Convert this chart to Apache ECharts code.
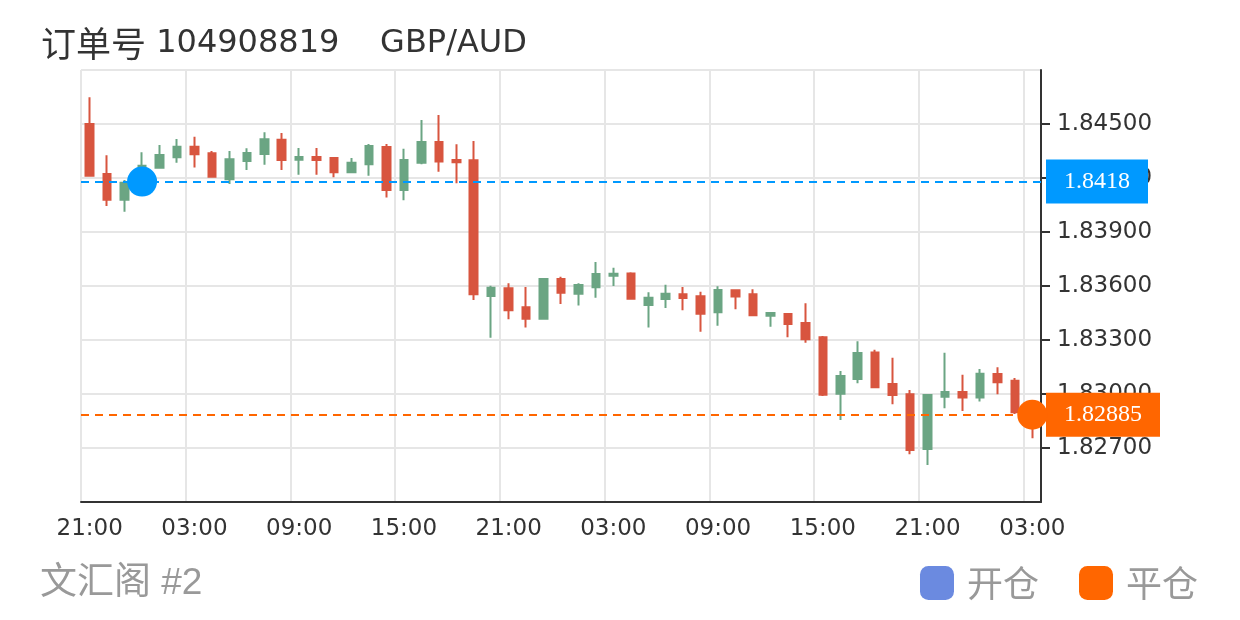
<!DOCTYPE html>
<html>
<head>
<meta charset="utf-8">
<script src="https://cdn.jsdelivr.net/npm/echarts@6/dist/echarts.min.js"></script>
<style>html,body{margin:0;padding:0;background:#fff}#c{width:1240px;height:620px}</style>
</head>
<body>
<div id="c"></div>
<script>
// ---- data ----
const hours = [
  '21:00','22:00','23:00','00:00','01:00','02:00','03:00','04:00','05:00','06:00','07:00','08:00',
  '09:00','10:00','11:00','12:00','13:00','14:00','15:00','16:00','17:00','18:00','19:00','20:00',
  '21:00','22:00','23:00','00:00','01:00','02:00','03:00','04:00','05:00','06:00','07:00','08:00',
  '09:00','10:00','11:00','12:00','13:00','14:00','15:00','16:00','17:00','18:00','19:00','20:00',
  '21:00','22:00','23:00','00:00','01:00','02:00','03:00'
];
const opens = [
  1.84500,1.84222,1.84079,1.84174,1.84257,1.84315,1.84374,1.84337,1.84193,1.84294,1.84333,1.84413,
  1.84302,1.84317,1.84311,1.84232,1.84276,1.84372,1.84133,1.84285,1.84400,1.84300,1.84298,1.83544,
  1.83587,1.83482,1.83418,1.83639,1.83557,1.83593,1.83657,1.83670,1.83494,1.83528,1.83554,1.83543,
  1.83454,1.83576,1.83554,1.83435,1.83444,1.83394,1.83315,1.83002,1.83083,1.83230,1.83056,1.82998,
  1.82694,1.82985,1.83011,1.82980,1.83111,1.83074,1.82900
];
const closes = [
  1.84213,1.84079,1.84174,1.84268,1.84328,1.84374,1.84332,1.84207,1.84304,1.84339,1.84415,1.84300,
  1.84317,1.84300,1.84232,1.84285,1.84378,1.84133,1.84300,1.84400,1.84291,1.84287,1.83554,1.83590,
  1.83465,1.83418,1.83639,1.83563,1.83606,1.83667,1.83668,1.83529,1.83535,1.83557,1.83533,1.83446,
  1.83578,1.83541,1.83437,1.83450,1.83389,1.83304,1.82996,1.83100,1.83228,1.83037,1.82994,1.82689,
  1.82994,1.83011,1.82980,1.83113,1.83065,1.82898,1.82860
];
const lows = [
  1.84210,1.84044,1.84013,1.84160,1.84257,1.84285,1.84259,1.84205,1.84167,1.84244,1.84274,1.84244,
  1.84218,1.84218,1.84204,1.84232,1.84213,1.84091,1.84076,1.84276,1.84235,1.84171,1.83522,1.83313,
  1.83415,1.83370,1.83418,1.83500,1.83491,1.83535,1.83600,1.83529,1.83370,1.83478,1.83465,1.83346,
  1.83379,1.83471,1.83437,1.83374,1.83315,1.83285,1.82989,1.82856,1.83060,1.83037,1.82943,1.82665,
  1.82606,1.82921,1.82906,1.82959,1.82998,1.82889,1.82754
];
const highs = [
  1.84648,1.84326,1.84189,1.84343,1.84383,1.84417,1.84429,1.84350,1.84350,1.84365,1.84454,1.84450,
  1.84367,1.84367,1.84311,1.84311,1.84389,1.84389,1.84363,1.84522,1.84550,1.84387,1.84406,1.83602,
  1.83615,1.83594,1.83639,1.83652,1.83615,1.83733,1.83702,1.83676,1.83565,1.83607,1.83594,1.83568,
  1.83598,1.83576,1.83582,1.83456,1.83444,1.83504,1.83322,1.83128,1.83293,1.83246,1.83202,1.83022,
  1.82994,1.83229,1.83107,1.83139,1.83148,1.83089,1.82905
];
const openIndex = 3;
const openPrice = 1.8418;
const closeIndex = 54;
const closePrice = 1.82885;
const yMin = 1.824;
const yMax = 1.848;
const yStep = 0.003;
const titleOrder = '104908819';
const titlePair = 'GBP/AUD';
const footerText = '文汇阁 #2';
const legendNames = ['开仓', '平仓'];

// ---- chart ----
const candleData = opens.map((o, i) => [o, closes[i], lows[i], highs[i]]);
const UP = '#6ba583', DOWN = '#d8553f';
const BLUE = '#0099ff', ORANGE = '#ff6600';
const axisFont = "'DejaVu Sans'";

function markLineCfg(price, color) {
  return {
    symbol: 'none',
    silent: true,
    precision: 6,
    data: [{ yAxis: price }],
    lineStyle: { color: color, type: [8, 6], width: 2 },
    label: {
      position: 'end',
      formatter: () => String(price),
      color: '#fff',
      backgroundColor: color,
      padding: [10, 18],
      fontSize: 24,
      fontFamily: "'Liberation Serif'"
    }
  };
}

const chart = echarts.init(document.getElementById('c'));
chart.setOption({
  animation: false,
  backgroundColor: '#fff',
  title: [
    {
      text: '{c|订单号} ' + titleOrder + '    ' + titlePair,
      left: 41, top: 26, padding: 0,
      textStyle: {
        fontSize: 32, fontWeight: 'normal', color: '#333',
        fontFamily: "'DejaVu Sans','Noto Sans CJK SC'",
        rich: { c: { fontSize: 35, color: '#333', fontFamily: "'Noto Sans CJK SC'" } }
      }
    },
    {
      text: footerText,
      left: 40, top: 565, padding: 0,
      textStyle: {
        fontSize: 37, fontWeight: 'normal', color: '#999',
        fontFamily: "'Liberation Sans','Noto Sans CJK SC'"
      }
    }
  ],
  legend: {
    right: 37, top: 560,
    itemWidth: 34, itemHeight: 34, itemGap: 40,
    icon: 'roundRect',
    textStyle: { fontSize: 36, color: '#999', fontFamily: "'Noto Sans CJK SC'", padding: [0, 0, 0, 8] },
    data: [
      { name: legendNames[0], itemStyle: { color: '#6b8ae0' } },
      { name: legendNames[1], itemStyle: { color: ORANGE } }
    ]
  },
  grid: { left: 81, right: 199, top: 70, bottom: 118 },
  xAxis: {
    type: 'category',
    data: hours,
    boundaryGap: true,
    axisLine: { lineStyle: { color: '#333', width: 2 } },
    axisTick: { alignWithLabel: true, interval: 5, length: 9, lineStyle: { color: '#333', width: 2 } },
    axisLabel: { interval: 5, margin: 16, fontSize: 23, color: '#333', fontFamily: axisFont },
    splitLine: { show: true, interval: 5, lineStyle: { color: '#e6e6e6', width: 2 } }
  },
  yAxis: {
    type: 'value',
    position: 'right',
    min: yMin, max: yMax, interval: yStep,
    axisLine: { show: true, lineStyle: { color: '#333', width: 2 } },
    axisTick: { show: true, length: 9, lineStyle: { color: '#333', width: 2 } },
    axisLabel: {
      showMinLabel: false, showMaxLabel: false,
      margin: 16, fontSize: 23, color: '#333', fontFamily: axisFont,
      formatter: v => v.toFixed(5)
    },
    splitLine: { show: true, lineStyle: { color: '#e6e6e6', width: 2 } }
  },
  series: [
    {
      name: 'K',
      type: 'candlestick',
      data: candleData,
      barWidth: 8,
      itemStyle: { color: UP, color0: DOWN, borderColor: UP, borderColor0: DOWN, borderWidth: 2 }
    },
    {
      name: legendNames[0],
      type: 'scatter',
      data: [[openIndex, openPrice]],
      symbolSize: 30,
      z: 5,
      itemStyle: { color: BLUE, opacity: 1 },
      markLine: markLineCfg(openPrice, BLUE)
    },
    {
      name: legendNames[1],
      type: 'scatter',
      data: [[closeIndex, closePrice]],
      symbolSize: 30,
      z: 5,
      itemStyle: { color: ORANGE, opacity: 1 },
      markLine: markLineCfg(closePrice, ORANGE)
    }
  ]
});
</script>
</body>
</html>
